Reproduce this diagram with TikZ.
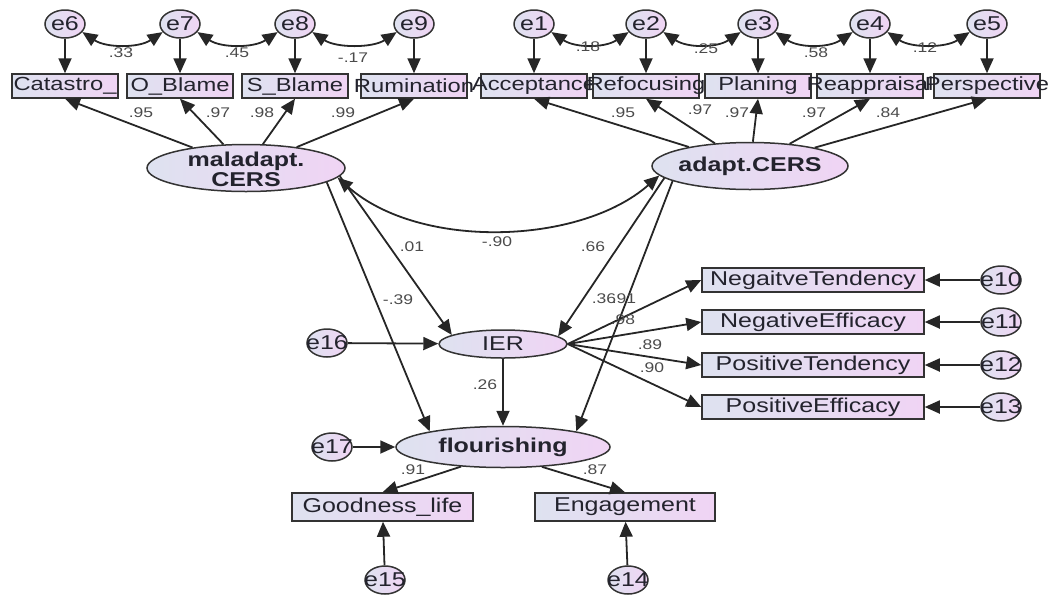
\documentclass[tikz,border=0pt]{standalone}
\usepackage{fontspec}
\setmainfont{Liberation Sans}
\usetikzlibrary{arrows.meta,shapes.geometric,calc}
\definecolor{cL}{RGB}{222,226,240}
\definecolor{cR}{RGB}{240,212,244}
\definecolor{txt}{RGB}{35,35,45}
\definecolor{numc}{RGB}{75,75,75}
\newcommand\SX[1]{\scalebox{1.25}[1]{#1}}
\newcommand\BT[1]{\makebox[0pt]{\SX{#1}}}
\tikzset{
 base/.style={draw=black!80, line width=1.5pt, left color=cL, right color=cR, inner sep=0pt},
 obs/.style={base, rectangle, minimum width=106pt, minimum height=24pt, font=\fontsize{20}{21}\selectfont, text=txt},
 topobs/.style={obs, font=\fontsize{19}{20}\selectfont},
 err/.style={base, ellipse, minimum width=40pt, minimum height=28pt, font=\fontsize{20}{21}\selectfont, text=txt},
 lat/.style={base, ellipse},
 lattext/.style={font=\fontsize{20}{20}\selectfont\bfseries, text=txt, align=center, inner sep=0pt},
 num/.style={font=\fontsize{14}{15}\selectfont, text=numc, inner sep=0pt},
 arr/.style={-{Triangle[length=15pt,width=13pt]}, line width=1.8pt, draw=black!85},
 arrr/.style={{Triangle[length=15pt,width=13pt]}-{Triangle[length=15pt,width=13pt]}, line width=1.8pt, draw=black!85},
}
\begin{document}
\begin{tikzpicture}[x=1pt,y=-1pt]
\useasboundingbox (0,0) rectangle (1048,595);
% latent variables
\node[lat, minimum width=198pt, minimum height=47pt] (mal) at (246,168) {};
\node[lattext] (malT) at (246,169) {\SX{maladapt.}\\\SX{CERS}};
\node[lat, minimum width=196pt, minimum height=47pt] (ada) at (750,166) {};
\node[lattext] (adaT) at (750,166) {\SX{adapt.CERS}};
\node[lat, minimum width=128pt, minimum height=28pt] (ier) at (503,344) {};
\node[lattext, font=\fontsize{20}{21}\selectfont] (ierT) at (503,344) {\SX{IER}};
\node[lat, minimum width=214pt, minimum height=41pt] (flo) at (503,447) {};
\node[lattext] (floT) at (503,447) {\SX{flourishing}};
% top observed
\node[topobs] (cat) at (65,86) {\BT{Catastro\_}};
\node[topobs] (ob) at (180,86) {\BT{O\_Blame}};
\node[topobs] (sb) at (295,86) {\BT{S\_Blame}};
\node[topobs] (rum) at (414,86) {\BT{Rumination}};
\node[topobs] (acc) at (534,86) {\BT{Acceptance}};
\node[topobs] (ref) at (646,86) {\BT{Refocusing}};
\node[topobs] (pla) at (758,86) {\BT{Planing}};
\node[topobs] (rea) at (870,86) {\BT{Reappraisal}};
\node[topobs] (per) at (987,86) {\BT{Perspective}};
% top errors
\node[err] (e6) at (65,24) {\BT{e6}};
\node[err] (e7) at (180,24) {\BT{e7}};
\node[err] (e8) at (295,24) {\BT{e8}};
\node[err] (e9) at (414,24) {\BT{e9}};
\node[err] (e1) at (534,24) {\BT{e1}};
\node[err] (e2) at (646,24) {\BT{e2}};
\node[err] (e3) at (758,24) {\BT{e3}};
\node[err] (e4) at (870,24) {\BT{e4}};
\node[err] (e5) at (987,24) {\BT{e5}};
% right observed
\node[obs, minimum width=222pt] (nt) at (813,280) {\BT{NegaitveTendency}};
\node[obs, minimum width=222pt] (ne) at (813,322) {\BT{NegativeEfficacy}};
\node[obs, minimum width=222pt] (pt) at (813,365) {\BT{PositiveTendency}};
\node[obs, minimum width=222pt] (pe) at (813,407) {\BT{PositiveEfficacy}};
\node[err] (e10) at (1001,280) {\BT{e10}};
\node[err] (e11) at (1001,322) {\BT{e11}};
\node[err] (e12) at (1001,365) {\BT{e12}};
\node[err] (e13) at (1001,407) {\BT{e13}};
% bottom
\node[obs, minimum width=181pt, minimum height=28pt] (gl) at (382.5,507) {\BT{Goodness\_life}};
\node[obs, minimum width=180pt, minimum height=28pt] (eng) at (625,507) {\BT{Engagement}};
\node[err] (e16) at (327,343) {\BT{e16}};
\node[err] (e17) at (332,447) {\BT{e17}};
\node[err] (e15) at (385,580) {\BT{e15}};
\node[err] (e14) at (628,580) {\BT{e14}};
% error to indicator arrows
\foreach \e/\b in {e6/cat,e7/ob,e8/sb,e9/rum,e1/acc,e2/ref,e3/pla,e4/rea,e5/per,e10/nt,e11/ne,e12/pt,e13/pe,e16/ier,e17/flo,e15/gl,e14/eng}
  \draw[arr] (\e) -- (\b);
% covariances among errors
\foreach \a/\b in {e6/e7,e7/e8,e8/e9,e1/e2,e2/e3,e3/e4,e4/e5}{
  \draw[arrr] (\a.-25) .. controls ($(\a.-25)+(24,16)$) and ($(\b.205)+(-24,16)$) .. (\b.205);
}
% loadings
\foreach \b in {cat,ob,sb,rum} \draw[arr] (mal) -- (\b.south);
\foreach \b in {acc,ref,pla,rea,per} \draw[arr] (ada) -- (\b.south);
% structural paths
\draw[arrr] (mal.-6) .. controls (420,250) and (580,245) .. (ada.186);
\draw[arr] (mal.-5) -- (ier.170);
\draw[arr] (mal.-10) -- (flo.168);
\draw[arr] (ada.188) -- (ier.8);
\draw[arr] (ada.191) -- (flo.12);
\draw[arr] (ier) -- (flo);
\draw[arr] (ier.east) -- (nt.west);
\draw[arr] (ier.east) -- (ne.west);
\draw[arr] (ier.east) -- (pt.west);
\draw[arr] (ier.east) -- (pe.west);
\draw[arr] (flo.205) -- (gl.north);
\draw[arr] (flo.-27) -- (eng.north);
% numbers
\node[num] (n1) at (121,53) {\SX{.33}};
\node[num] (n2) at (237,53) {\SX{.45}};
\node[num] (n3) at (353,58) {\SX{-.17}};
\node[num] (n4) at (588,47) {\SX{.18}};
\node[num] (n5) at (706,49) {\SX{.25}};
\node[num] (n6) at (816,53) {\SX{.58}};
\node[num] (n7) at (925,48) {\SX{.12}};
\node[num] (n8) at (141,113) {\SX{.95}};
\node[num] (n9) at (218,113) {\SX{.97}};
\node[num] (n10) at (262,113) {\SX{.98}};
\node[num] (n11) at (343,113) {\SX{.99}};
\node[num] (n12) at (623,113) {\SX{.95}};
\node[num] (n13) at (700,110) {\SX{.97}};
\node[num] (n14) at (737,113) {\SX{.97}};
\node[num] (n15) at (814,113) {\SX{.97}};
\node[num] (n16) at (888,113) {\SX{.84}};
\node[num] (n17) at (497,242) {\SX{-.90}};
\node[num] (n18) at (412,247) {\SX{.01}};
\node[num] (n19) at (398,300) {\SX{-.39}};
\node[num] (n20) at (593,247) {\SX{.66}};
\node[num] (n21) at (604,299) {\SX{.36}};
\node[num] (n22) at (624,299) {\SX{.91}};
\node[num] (n23) at (623,320) {\SX{.98}};
\node[num] (n24) at (650,345) {\SX{.89}};
\node[num] (n25) at (652,368) {\SX{.90}};
\node[num] (n26) at (485,385) {\SX{.26}};
\node[num] (n27) at (413,470) {\SX{.91}};
\node[num] (n28) at (595,470) {\SX{.87}};
\end{tikzpicture}
\end{document}
